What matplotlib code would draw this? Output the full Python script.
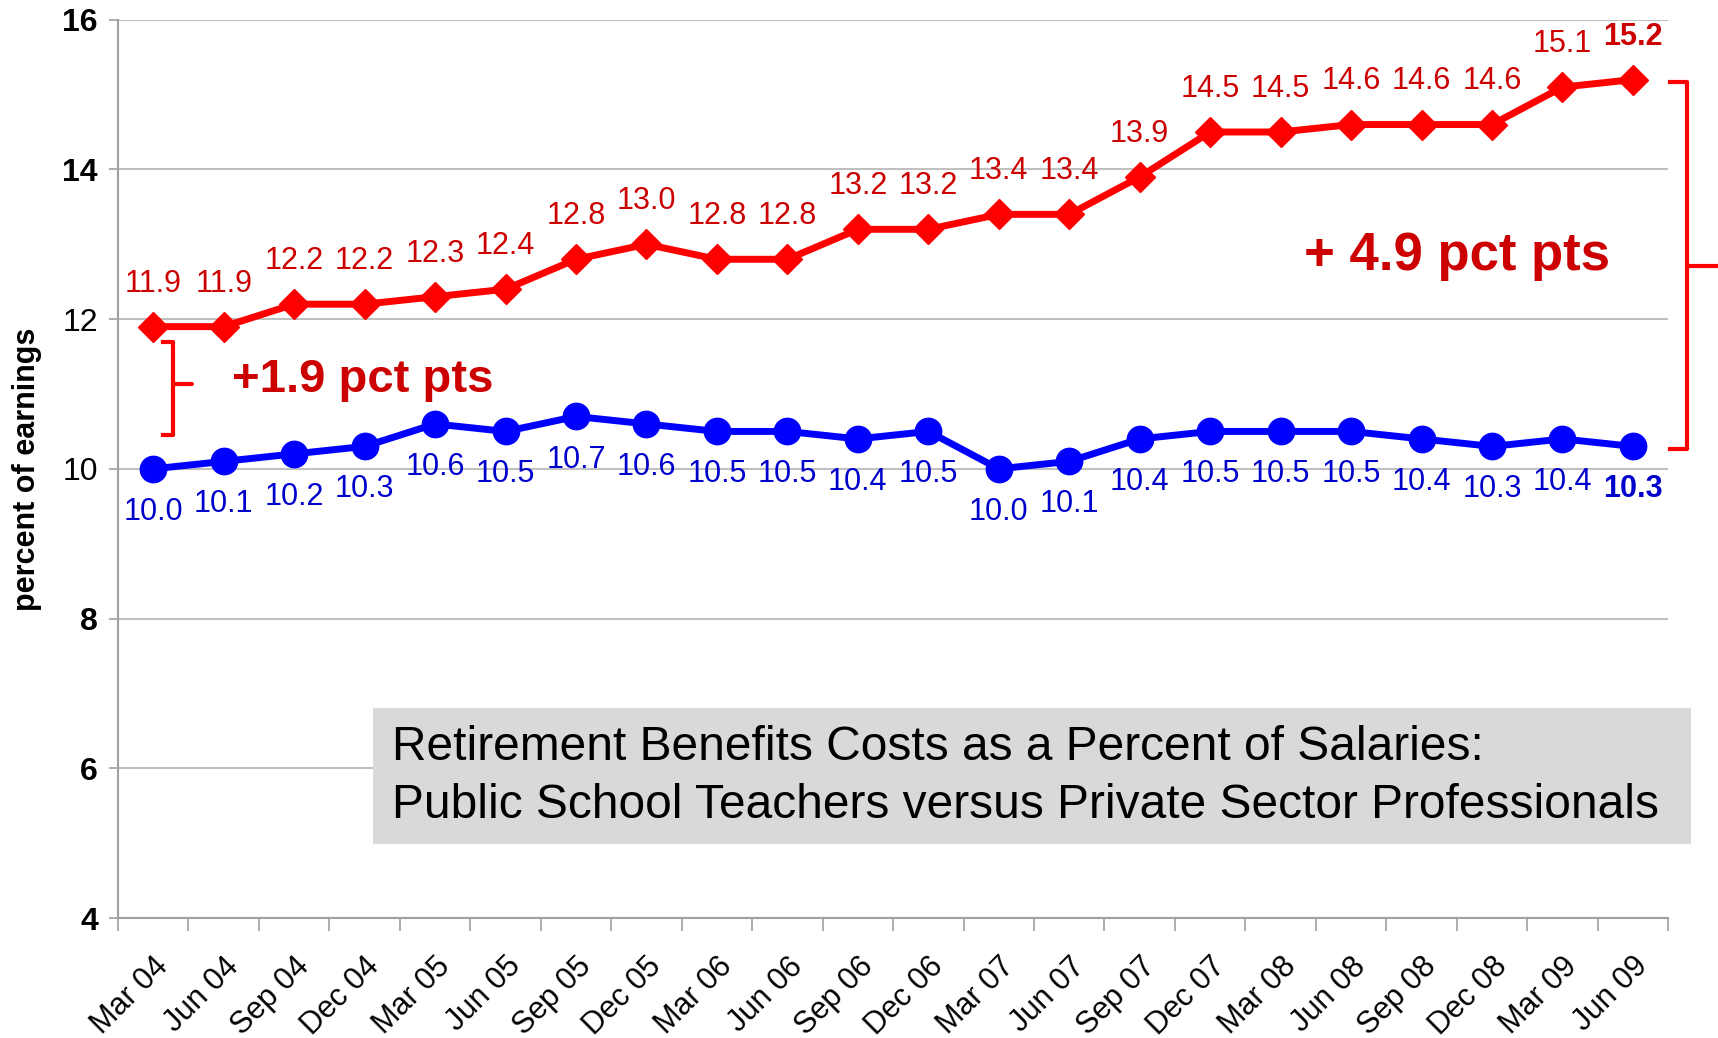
import numpy as np
import matplotlib.pyplot as plt
from matplotlib.patches import Rectangle

plt.rcParams['font.family'] = ['Liberation Sans', 'DejaVu Sans']

quarters = ['Mar 04', 'Jun 04', 'Sep 04', 'Dec 04', 'Mar 05', 'Jun 05', 'Sep 05', 'Dec 05',
            'Mar 06', 'Jun 06', 'Sep 06', 'Dec 06', 'Mar 07', 'Jun 07', 'Sep 07', 'Dec 07',
            'Mar 08', 'Jun 08', 'Sep 08', 'Dec 08', 'Mar 09', 'Jun 09']
# retirement costs, percent of earnings
teachers = [11.9, 11.9, 12.2, 12.2, 12.3, 12.4, 12.8, 13.0, 12.8, 12.8, 13.2, 13.2,
            13.4, 13.4, 13.9, 14.5, 14.5, 14.6, 14.6, 14.6, 15.1, 15.2]
private = [10.0, 10.1, 10.2, 10.3, 10.6, 10.5, 10.7, 10.6, 10.5, 10.5, 10.4, 10.5,
           10.0, 10.1, 10.4, 10.5, 10.5, 10.5, 10.4, 10.3, 10.4, 10.3]
yticks = [4, 6, 8, 10, 12, 14, 16]

red = '#FF0000'
dark_red = '#CC0000'
blue = '#0000FF'
dark_blue = '#0000CC'

fig = plt.figure(figsize=(17.18, 10.38), dpi=100)
ax = fig.add_axes([0.0687, 0.1156, 0.9023, 0.8654])

x = np.arange(len(quarters))
ax.plot(x, teachers, color=red, lw=5, marker='D', ms=15, zorder=3)
ax.plot(x, private, color=blue, lw=5, marker='o', ms=19, zorder=3)

last = len(quarters) - 1
for i, v in enumerate(teachers):
    ax.annotate(f'{v:.1f}', (i, v), xytext=(0, 31), textcoords='offset points',
                ha='center', va='center', fontsize=22, color=dark_red,
                fontweight='bold' if i == last else 'normal')
for i, v in enumerate(private):
    ax.annotate(f'{v:.1f}', (i, v), xytext=(0, -31), textcoords='offset points',
                ha='center', va='center', fontsize=22, color=dark_blue,
                fontweight='bold' if i == last else 'normal')

ax.set_xlim(-0.5, len(quarters) - 0.5)
ax.set_ylim(4, 16)
ax.set_yticks(yticks)
ax.set_yticklabels([str(t) for t in yticks], fontsize=23)
for lbl, t in zip(ax.get_yticklabels(), yticks):
    if t not in (10, 12):
        lbl.set_fontweight('bold')
ax.set_xticks(x)
ax.set_xticklabels(quarters, rotation=45, ha='right', rotation_mode='anchor', fontsize=22)
ax.set_xticks(np.arange(-0.5, len(quarters)), minor=True)
ax.tick_params(axis='x', which='major', length=0, pad=24)
ax.tick_params(axis='x', which='minor', length=9, color='#A0A0A0', width=1.2)
ax.tick_params(axis='y', length=6.5, pad=8, color='#A0A0A0', width=1.2)

ax.grid(axis='y', color='#C0C0C0', lw=1.5)
ax.set_axisbelow(True)
for side in ['top', 'right']:
    ax.spines[side].set_visible(False)
for side in ['left', 'bottom']:
    ax.spines[side].set_color('#A0A0A0')
    ax.spines[side].set_linewidth(1.5)

ax.set_ylabel('percent of earnings', fontsize=22, fontweight='bold')
ax.yaxis.set_label_coords(-0.049, 0.5)


def brace(x_arm, x_spine, x_tip, y_top, y_mid, y_bot):
    ax.plot([x_arm, x_spine, x_spine, x_arm], [y_top, y_top, y_bot, y_bot],
            color=red, lw=3, solid_joinstyle='round', clip_on=False, zorder=4)
    ax.plot([x_spine, x_tip], [y_mid, y_mid], color=red, lw=3,
            solid_capstyle='round', clip_on=False, zorder=4)


brace(0.14, 0.28, 0.55, 11.69, 11.14, 10.45)
brace(21.53, 21.77, 22.21, 15.17, 12.71, 10.26)

ax.text(1.12, 11.19, '+1.9 pct pts', fontsize=34, fontweight='bold',
        color=dark_red, ha='left', va='center')
ax.text(16.33, 12.85, '+ 4.9 pct pts', fontsize=38, fontweight='bold',
        color=dark_red, ha='left', va='center')

# title box at the lower right
fig.patches.append(Rectangle((372.5 / 1718, 1 - 844 / 1038), (1690.7 - 372.5) / 1718,
                             (844 - 708) / 1038, transform=fig.transFigure,
                             facecolor='#D9D9D9', edgecolor='none', zorder=5))
fig.text(392 / 1718, 1 - 748 / 1038, 'Retirement Benefits Costs as a Percent of Salaries:',
         fontsize=34.5, va='center', ha='left', zorder=6)
fig.text(392 / 1718, 1 - 805 / 1038, 'Public School Teachers versus Private Sector Professionals',
         fontsize=34.5, va='center', ha='left', zorder=6)

fig.savefig('out.png', dpi=100)
